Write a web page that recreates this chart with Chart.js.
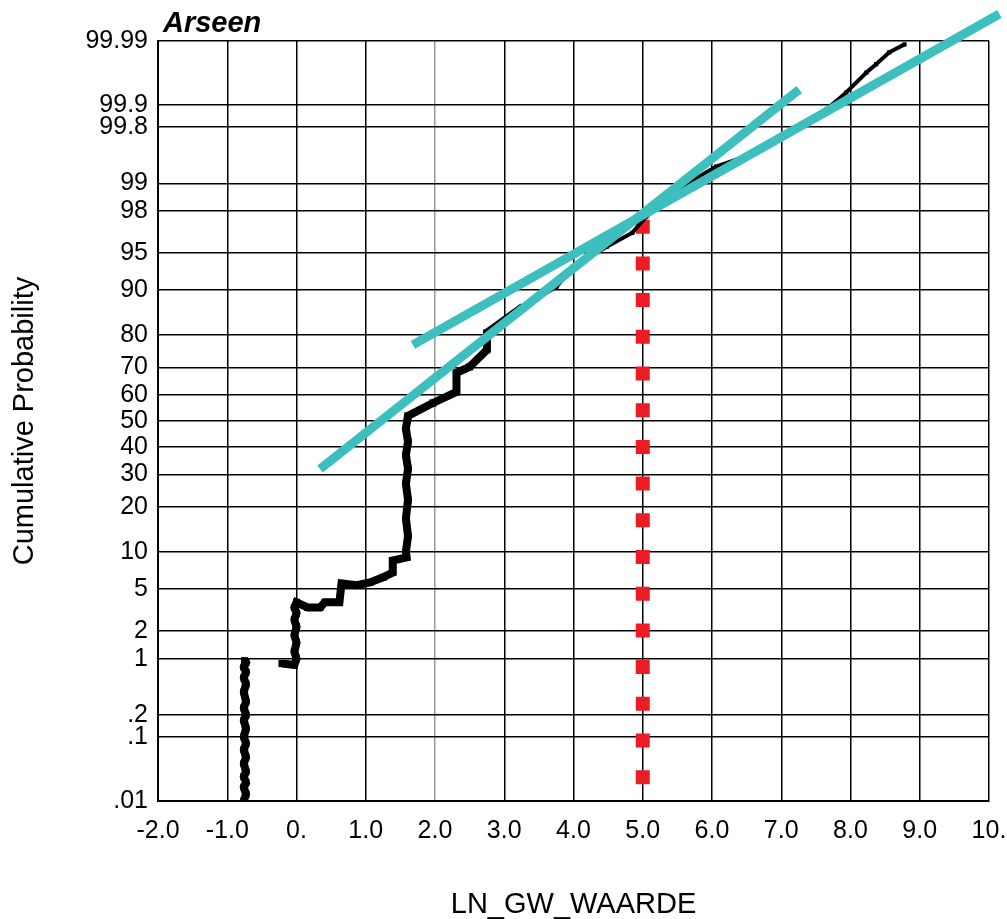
<!DOCTYPE html>
<html>
<head>
<meta charset="utf-8">
<script src="https://cdn.jsdelivr.net/npm/chart.js@4/dist/chart.umd.min.js"></script>
<style>
  body { margin: 0; background: #fff; }
</style>
</head>
<body>
<canvas id="myChart" width="1007" height="919"></canvas>
<script>
// axis labels
const yTickProbs = [0.01, 0.1, 0.2, 1, 2, 5, 10, 20, 30, 40, 50, 60, 70, 80, 90, 95, 98, 99, 99.8, 99.9, 99.99];
const yTickLabels = [".01", ".1", ".2", "1", "2", "5", "10", "20", "30", "40", "50", "60", "70", "80", "90", "95", "98", "99", "99.8", "99.9", "99.99"];
const xTickLabels = ["-2.0", "-1.0", "0.", "1.0", "2.0", "3.0", "4.0", "5.0", "6.0", "7.0", "8.0", "9.0", "10."];

// cumulative data (x = LN_GW_WAARDE, p = cumulative %)
const dataX = [
  -0.76, -0.73, -0.76, -0.73, -0.76, -0.73, -0.76, -0.73, -0.76, -0.73, -0.76, -0.73,
  -0.76, -0.73, -0.76, -0.73, -0.76, -0.73, -0.76, -0.73, -0.76, -0.73, -0.75,
  -0.21,
  -0.03, 0.0, -0.03, 0.0, -0.03, 0.0, -0.03, 0.0, -0.03, 0.0,
  0.16, 0.34, 0.41, 0.62, 0.65, 0.87, 1.06, 1.25, 1.39, 1.39, 1.59,
  1.58, 1.61, 1.58, 1.61, 1.58, 1.61, 1.58, 1.61, 1.58, 1.61,
  1.97, 2.31, 2.31, 2.50, 2.75, 2.75, 3.27, 3.76, 3.99, 4.48, 4.85, 5.05,
  5.57, 6.06, 6.64, 7.12, 7.65, 7.94, 8.23, 8.37, 8.56, 8.78
];
const dataP = [
  0.01, 0.013, 0.017, 0.02, 0.025, 0.03, 0.04, 0.05, 0.065, 0.08, 0.1, 0.13,
  0.17, 0.2, 0.25, 0.3, 0.4, 0.5, 0.6, 0.7, 0.8, 0.9, 0.95,
  0.88,
  0.85, 1.0, 1.2, 1.5, 1.8, 2.2, 2.6, 3.0, 3.4, 3.8,
  3.4, 3.4, 3.8, 3.8, 5.6, 5.4, 5.7, 6.3, 6.9, 8.6, 9.1,
  10, 13, 17, 22, 27, 32, 37, 42, 47, 52,
  57, 61.2, 68.1, 70.2, 75.7, 80.6, 86.8, 90.6, 93.45, 95.6, 96.73, 97.72,
  98.91, 99.36, 99.57, 99.763, 99.885, 99.935, 99.9675, 99.976, 99.9846, 99.9886
];

// fitted lines
const fit1X = [0.34, 7.26];
const fit1P = [31.9, 99.941];
const fit2X = [1.68, 10.15];
const fit2P = [77.2, 99.9966];

// vertical marker at 5.0
const markX = [5, 5];
const markP = [97.56, 0.0186];

// inverse normal (probability paper)
function probit(p) {
  const a = [-3.969683028665376e+01, 2.209460984245205e+02, -2.759285104469687e+02, 1.383577518672690e+02, -3.066479806614716e+01, 2.506628277459239e+00];
  const b = [-5.447609879822406e+01, 1.615858368580409e+02, -1.556989798598866e+02, 6.680131188771972e+01, -1.328068155288572e+01];
  const c = [-7.784894002430293e-03, -3.223964580411365e-01, -2.400758277161838e+00, -2.549671688253171e+00, 4.374664141464968e+00, 2.938163982698783e+00];
  const d = [7.784695709041462e-03, 3.224671290700398e-01, 2.445134137142996e+00, 3.754408661907416e+00];
  const pl = 0.02425;
  let q, r;
  if (p < pl) {
    q = Math.sqrt(-2 * Math.log(p));
    return (((((c[0]*q+c[1])*q+c[2])*q+c[3])*q+c[4])*q+c[5]) / ((((d[0]*q+d[1])*q+d[2])*q+d[3])*q+1);
  }
  if (p > 1 - pl) {
    q = Math.sqrt(-2 * Math.log(1 - p));
    return -(((((c[0]*q+c[1])*q+c[2])*q+c[3])*q+c[4])*q+c[5]) / ((((d[0]*q+d[1])*q+d[2])*q+d[3])*q+1);
  }
  q = p - 0.5;
  r = q * q;
  return (((((a[0]*r+a[1])*r+a[2])*r+a[3])*r+a[4])*r+a[5])*q / (((((b[0]*r+b[1])*r+b[2])*r+b[3])*r+b[4])*r+1);
}

function toPoints(xs, ps) {
  return xs.map((x, i) => ({ x: x, y: probit(ps[i] / 100) }));
}

const tickFont = { family: "'Liberation Sans Narrow', 'Liberation Sans', Arial, sans-serif", size: 25 };

// title drawn over the left corner of the plot
const titlePlugin = {
  id: "cornerTitle",
  afterDraw(chart) {
    const ctx = chart.ctx;
    ctx.save();
    ctx.font = "italic bold 29px 'Liberation Sans', Arial, sans-serif";
    ctx.fillStyle = "#000";
    ctx.textAlign = "left";
    ctx.textBaseline = "alphabetic";
    ctx.fillText("Arseen", chart.chartArea.left + 5, chart.chartArea.top - 9);
    ctx.restore();
  }
};

window.onload = function() {
  const ctx = document.getElementById("myChart").getContext("2d");

  new Chart(ctx, {
    type: "scatter",
    data: {
      datasets: [
        {
          label: "fit1",
          data: toPoints(fit1X, fit1P),
          showLine: true,
          borderColor: "#3dbfbf",
          borderWidth: 9,
          pointRadius: 0,
          borderCapStyle: "butt",
          order: 1
        },
        {
          label: "fit2",
          data: toPoints(fit2X, fit2P),
          showLine: true,
          borderColor: "#3dbfbf",
          borderWidth: 9,
          pointRadius: 0,
          borderCapStyle: "butt",
          clip: false,
          order: 1
        },
        {
          label: "data",
          data: toPoints(dataX, dataP),
          showLine: true,
          borderColor: "#000",
          borderWidth: 4,
          segment: {
            borderWidth: c => (c.p0.parsed.x < 2.8 ? 8 : 4),
            // no joining stroke across the gap left of zero
            borderColor: c => (c.p0.parsed.x < -0.5 && c.p1.parsed.x > -0.5 ? "rgba(0,0,0,0)" : "#000")
          },
          pointStyle: "rect",
          pointRadius: c => (c.parsed && c.parsed.x < 2.8 ? 5 : 3),
          backgroundColor: "#000",
          pointBorderWidth: 0,
          order: 2
        },
        {
          label: "mark",
          data: toPoints(markX, markP),
          showLine: true,
          borderColor: "#ec1c24",
          borderWidth: 14,
          borderDash: [14, 22.7],
          borderCapStyle: "butt",
          pointRadius: 0,
          order: 3
        }
      ]
    },
    options: {
      responsive: false,
      animation: false,
      layout: { padding: { top: 41, right: 0, bottom: 0, left: 0 } },
      plugins: {
        legend: { display: false },
        tooltip: { enabled: false }
      },
      scales: {
        x: {
          type: "linear",
          min: -2,
          max: 10,
          ticks: {
            stepSize: 1,
            color: "#000",
            font: tickFont,
            padding: 15,
            maxRotation: 0,
            callback: function(value) {
              return xTickLabels[Math.round(value + 2)];
            }
          },
          grid: {
            color: function(c) { return c.tick && c.tick.value === 2 ? "#999" : "#000"; },
            lineWidth: 1.5,
            drawTicks: false
          },
          border: { display: true, color: "#000", width: 2 },
          title: {
            display: true,
            text: "LN_GW_WAARDE",
            color: "#000",
            font: { family: "'Liberation Sans Narrow', 'Liberation Sans', Arial, sans-serif", size: 29, lineHeight: 1.0 },
            padding: 0
          },
          afterFit: function(scale) {
            scale.height = 118;
            scale.paddingLeft = 0;
            scale.paddingRight = 18;
          }
        },
        y: {
          type: "linear",
          min: probit(0.0001),
          max: probit(0.9999),
          afterBuildTicks: function(scale) {
            scale.ticks = yTickProbs.map(p => ({ value: probit(p / 100) }));
          },
          ticks: {
            autoSkip: false,
            color: "#000",
            font: tickFont,
            padding: 10,
            callback: function(value, index) {
              return yTickLabels[index];
            }
          },
          grid: {
            color: "#000",
            lineWidth: 1.5,
            drawTicks: false
          },
          border: { display: true, color: "#000", width: 2 },
          title: {
            display: true,
            text: "Cumulative Probability",
            color: "#000",
            font: { family: "'Liberation Sans', Arial, sans-serif", size: 29, lineHeight: 1.2 },
            padding: { top: 8, bottom: 0 }
          },
          afterFit: function(scale) { scale.width = 158; }
        }
      }
    },
    plugins: [titlePlugin]
  });
};
</script>
</body>
</html>
